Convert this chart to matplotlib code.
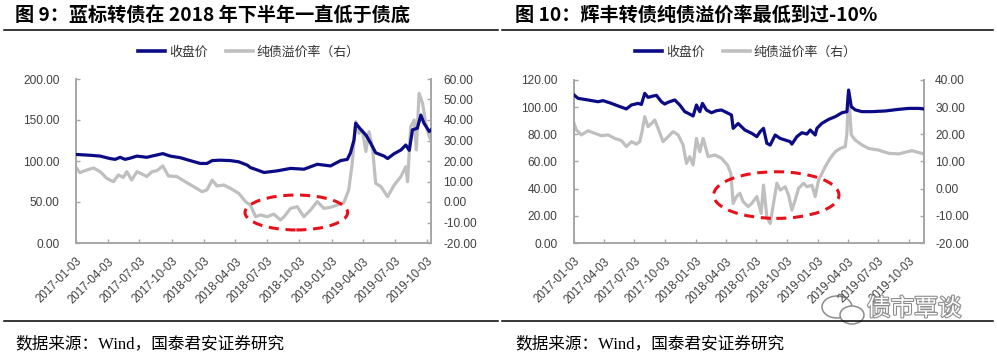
import pandas as pd
import matplotlib
matplotlib.use('Agg')
import matplotlib.pyplot as plt
import matplotlib.dates as mdates
from matplotlib.patches import Ellipse
from matplotlib.lines import Line2D
import matplotlib.patheffects as pe

plt.rcParams['font.family'] = ['Liberation Sans', 'Noto Sans CJK SC']

# --- Panel 1: 蓝标转债
left_close_dates = ['2017-01-03', '2017-02-12', '2017-03-13', '2017-04-10', '2017-04-25', '2017-05-09',
                    '2017-05-23', '2017-06-07', '2017-06-26', '2017-07-24', '2017-08-13', '2017-09-08',
                    '2017-09-29', '2017-10-28', '2017-11-25', '2017-12-24', '2018-01-12', '2018-01-27',
                    '2018-02-19', '2018-03-20', '2018-04-13', '2018-05-07', '2018-05-16', '2018-06-05',
                    '2018-06-24', '2018-08-01', '2018-09-08', '2018-10-16', '2018-11-23', '2018-12-31',
                    '2019-01-29', '2019-02-17', '2019-02-26', '2019-03-08', '2019-03-13', '2019-03-27',
                    '2019-04-11', '2019-04-25', '2019-05-09', '2019-06-02', '2019-06-12', '2019-07-01',
                    '2019-07-20', '2019-08-03', '2019-08-13', '2019-08-22', '2019-09-05', '2019-09-15',
                    '2019-09-24', '2019-10-09', '2019-10-14']
left_close = [108, 107, 106, 103, 102, 104.5,
              102, 103.5, 106, 104.5, 106.5, 109,
              106, 104, 100.5, 97, 97, 100.5,
              101, 100.5, 99, 95, 92, 89,
              86, 88, 91, 90, 96, 94,
              100.5, 102, 110, 125.6, 146, 138.6,
              131.7, 121.5, 110, 106, 103, 109,
              113.4, 119.5, 113, 138, 140, 156,
              146, 136, 138]

left_prem_dates = ['2017-01-03', '2017-01-14', '2017-02-03', '2017-02-22', '2017-03-13', '2017-04-01',
                   '2017-04-20', '2017-05-04', '2017-05-18', '2017-05-28', '2017-06-11', '2017-06-26',
                   '2017-07-10', '2017-07-24', '2017-08-08', '2017-08-22', '2017-09-08', '2017-09-24',
                   '2017-10-18', '2017-11-11', '2017-12-05', '2017-12-29', '2018-01-12', '2018-01-27',
                   '2018-02-10', '2018-03-01', '2018-03-20', '2018-04-13', '2018-05-02', '2018-05-16',
                   '2018-05-31', '2018-06-14', '2018-07-03', '2018-07-22', '2018-08-10', '2018-08-20',
                   '2018-09-08', '2018-09-27', '2018-10-16', '2018-11-04', '2018-11-23', '2018-12-12',
                   '2018-12-31', '2019-01-19', '2019-02-07', '2019-02-21', '2019-03-03', '2019-03-13',
                   '2019-03-22', '2019-04-01', '2019-04-11', '2019-04-20', '2019-04-30', '2019-05-09',
                   '2019-05-24', '2019-06-12', '2019-07-01', '2019-07-20', '2019-08-03', '2019-08-08',
                   '2019-08-17', '2019-08-27', '2019-09-02', '2019-09-10', '2019-09-20', '2019-09-29',
                   '2019-10-09', '2019-10-14']
left_prem = [16.9, 14.3, 15.6, 16.6, 14.8, 11.5,
             9.9, 13.2, 12, 14.8, 10.7, 14.8,
             13.7, 12.4, 14.8, 15.3, 17.6, 12.7,
             12.4, 9.9, 7.5, 5, 5.9, 10.7,
             7.8, 8.3, 6.7, 4.2, 0.2, -1.5,
             -7.2, -6.3, -7.2, -5.9, -8.8, -7.2,
             -3.1, -2.3, -7.2, -3.9, 0.2, -3.1,
             -2.6, -1.5, -0.3, 5.9, 18.9, 39.2,
             33.5, 35.1, 24.6, 34.3, 26.2, 9.1,
             7.5, 2.6, 8.3, 12.4, 17.2, 9.9,
             36.7, 40, 25.4, 53, 48.1, 38.4,
             31.9, 30.2]

# --- Panel 2: 辉丰转债
right_close_dates = ['2017-01-03', '2017-01-15', '2017-02-14', '2017-03-16', '2017-03-31', '2017-04-25',
                     '2017-05-15', '2017-06-09', '2017-06-24', '2017-07-14', '2017-07-24', '2017-08-03',
                     '2017-08-13', '2017-08-28', '2017-09-07', '2017-09-22', '2017-10-02', '2017-10-12',
                     '2017-11-01', '2017-11-16', '2017-12-01', '2017-12-11', '2017-12-26', '2018-01-05',
                     '2018-01-15', '2018-01-23', '2018-02-04', '2018-02-19', '2018-03-06', '2018-03-21',
                     '2018-04-10', '2018-04-20', '2018-04-25', '2018-05-10', '2018-05-20', '2018-05-30',
                     '2018-06-20', '2018-07-05', '2018-07-15', '2018-07-25', '2018-08-04', '2018-08-14',
                     '2018-08-29', '2018-09-13', '2018-09-28', '2018-10-13', '2018-10-18', '2018-11-02',
                     '2018-11-17', '2018-12-02', '2018-12-12', '2018-12-27', '2019-01-01', '2019-01-16',
                     '2019-02-05', '2019-02-25', '2019-03-17', '2019-04-01', '2019-04-06', '2019-04-14',
                     '2019-04-26', '2019-05-16', '2019-06-15', '2019-07-25', '2019-09-03', '2019-10-03',
                     '2019-11-02', '2019-11-17']
right_close = [109, 106.5, 105.3, 104, 104.8, 102.8,
               100.9, 98.7, 101.6, 102.8, 102, 110.2,
               107.2, 108.2, 108.7, 104, 102.3, 103.6,
               105.3, 101.6, 96.7, 95.5, 93.5, 101.6,
               96.7, 102.8, 97.9, 95.9, 97.4, 97.9,
               95.5, 94.2, 84.4, 88, 85.6, 83.2,
               80.7, 78.3, 82, 84.4, 73.4, 72.1,
               79.5, 77, 75.8, 74.6, 72.8, 78.3,
               81.2, 80.2, 83.2, 79.5, 84.4, 88.1,
               91, 93, 95.9, 96.7, 112.6, 100.4,
               98, 96.7, 96.7, 97.2, 98.4, 99.1,
               99.1, 98.7]

right_prem_dates = ['2017-01-03', '2017-01-10', '2017-01-25', '2017-02-14', '2017-03-06', '2017-03-26',
                    '2017-04-15', '2017-05-05', '2017-05-25', '2017-06-09', '2017-06-24', '2017-07-09',
                    '2017-07-19', '2017-07-26', '2017-08-03', '2017-08-13', '2017-08-23', '2017-09-02',
                    '2017-09-12', '2017-09-27', '2017-10-12', '2017-10-27', '2017-11-11', '2017-11-26',
                    '2017-12-06', '2017-12-16', '2017-12-26', '2018-01-05', '2018-01-15', '2018-01-25',
                    '2018-02-09', '2018-03-01', '2018-03-21', '2018-04-08', '2018-04-18', '2018-04-25',
                    '2018-05-05', '2018-05-15', '2018-05-25', '2018-06-09', '2018-06-20', '2018-07-05',
                    '2018-07-18', '2018-07-25', '2018-08-04', '2018-08-14', '2018-08-24', '2018-09-03',
                    '2018-09-13', '2018-09-28', '2018-10-08', '2018-10-18', '2018-10-28', '2018-11-07',
                    '2018-11-22', '2018-12-02', '2018-12-17', '2018-12-27', '2019-01-06', '2019-01-16',
                    '2019-01-26', '2019-02-10', '2019-02-25', '2019-03-12', '2019-03-27', '2019-04-01',
                    '2019-04-06', '2019-04-14', '2019-04-26', '2019-05-16', '2019-06-05', '2019-07-05',
                    '2019-08-04', '2019-09-03', '2019-10-13', '2019-11-02', '2019-11-17']
right_prem = [24, 21.6, 19.8, 21.3, 20.4, 19.5,
              19.8, 18.5, 17.7, 15.5, 17.3, 16.4,
              17.3, 21, 26.5, 22.8, 24, 25.3,
              22.2, 17.3, 19.1, 21, 19.8, 16.1,
              9.3, 11.8, 8.7, 18.5, 13.6, 18.5,
              11.8, 12.4, 11.2, 8.7, 5.6, -5.4,
              -2.9, -1.7, -4.8, -6.6, -5.4, -2.9,
              -9.1, 1.3, -10.3, -12.8, -5.4, 2,
              -0.5, 0.7, -2.3, -7.9, -4.2, 0.1,
              2, 0.7, 1.3, -2.9, 3.2, 5.6,
              8.1, 11.2, 13.6, 14.8, 15.5, 20.4,
              35.7, 19.8, 17.9, 16.1, 14.8, 14.2,
              13, 12.8, 14, 13.3, 12.8]

tick_dates = ['2017-01-03', '2017-04-03', '2017-07-03', '2017-10-03', '2018-01-03', '2018-04-03',
              '2018-07-03', '2018-10-03', '2019-01-03', '2019-04-03', '2019-07-03', '2019-10-03']

titles = ['图 9：蓝标转债在 2018 年下半年一直低于债底', '图 10：辉丰转债纯债溢价率最低到过-10%']
legend_labels = ['收盘价', '纯债溢价率（右）']
source_text = '数据来源：Wind，国泰君安证券研究'

BLUE = '#0b0b86'
GRAY = '#bfbfbf'
SPINE = '#a6a6a6'
LABEL = '#404040'

fig = plt.figure(figsize=(9.97, 3.56), dpi=100)


def draw_panel(rect, close_d, close_v, prem_d, prem_v, xend, ylim_l, step_l, ylim_r, step_r,
               ell, leg_x, title, title_x, lpad, rpad):
    ax = fig.add_axes(rect)
    ax2 = ax.twinx()
    ax.plot(pd.to_datetime(close_d), close_v, color=BLUE, lw=2.3, zorder=3)
    ax2.plot(pd.to_datetime(prem_d), prem_v, color=GRAY, lw=2.3, zorder=2)
    ax.set_zorder(ax2.get_zorder() + 1)
    ax.patch.set_visible(False)

    ax.set_xlim(pd.Timestamp('2017-01-03'), pd.Timestamp(xend))
    ax.set_ylim(*ylim_l)
    ax2.set_ylim(*ylim_r)
    ax.set_yticks([ylim_l[0] + i * step_l for i in range(int((ylim_l[1] - ylim_l[0]) / step_l) + 1)])
    ax2.set_yticks([ylim_r[0] + i * step_r for i in range(int((ylim_r[1] - ylim_r[0]) / step_r) + 1)])
    ax.yaxis.set_major_formatter(plt.FormatStrFormatter('%.2f'))
    ax2.yaxis.set_major_formatter(plt.FormatStrFormatter('%.2f'))
    ax.set_xticks(pd.to_datetime(tick_dates))
    ax.xaxis.set_major_formatter(mdates.DateFormatter('%Y-%m-%d'))

    for a in (ax, ax2):
        a.spines['top'].set_visible(False)
        for s in ('left', 'right', 'bottom'):
            a.spines[s].set_color(SPINE)
            a.spines[s].set_linewidth(1.2)
        a.tick_params(direction='in', length=3, width=1, color=SPINE,
                      labelsize=8.6, labelcolor=LABEL)
    ax.tick_params(axis='y', pad=lpad)
    ax2.tick_params(axis='y', pad=rpad)
    ax.tick_params(axis='x', pad=9)
    for lab in ax.get_xticklabels():
        lab.set_rotation(45)
        lab.set_ha('right')
        lab.set_rotation_mode('anchor')
        lab.set_fontsize(8.3)

    ax.add_patch(Ellipse(ell[:2], ell[2], ell[3], transform=ax.transAxes, fill=False,
                         edgecolor='#e8101a', lw=2.2, linestyle=(0, (3.3, 2.2)), zorder=5,
                         clip_on=False))

    handles = [Line2D([], [], color=BLUE, lw=2.6), Line2D([], [], color=GRAY, lw=2.6)]
    fig.legend(handles, legend_labels, ncol=2, frameon=False, loc='center',
               bbox_to_anchor=(leg_x, 0.853), prop={'family': ['Noto Sans CJK SC'], 'size': 9.3},
               handlelength=2.1, handletextpad=0.3, columnspacing=1.4, labelcolor='#333333')

    fig.text(title_x, 0.957, title, fontsize=13.8, fontweight='bold', family=['Noto Sans CJK SC'],
             va='center', ha='left', color='black')
    return ax


draw_panel([76 / 997, 1 - 243 / 356, 355 / 997, 164 / 356],
           left_close_dates, left_close, left_prem_dates, left_prem, '2019-10-14',
           (0, 200), 50, (-20, 60), 10, (0.6206, 0.186, 0.289, 0.213),
           249 / 997, titles[0], 15 / 997, 12, 9)
draw_panel([574 / 997, 1 - 243 / 356, 350 / 997, 163 / 356],
           right_close_dates, right_close, right_prem_dates, right_prem, '2019-11-18',
           (0, 120), 20, (-20, 40), 10, (0.578, 0.294, 0.358, 0.286),
           746 / 997, titles[1], 515 / 997, 12, 8)

# header and footer rules
for x0, x1 in ((4, 498), (502, 993)):
    for y in (29.5, 321):
        fig.add_artist(Line2D([x0 / 997, x1 / 997], [1 - y / 356, 1 - y / 356], color='black', lw=1.1))

for x in (15, 515):
    fig.text(x / 997, 1 - 344 / 356, source_text, fontsize=12, va='center', ha='left',
             family=['Liberation Serif', 'Noto Sans CJK SC'], color='black')

# watermark
fig.text(867 / 997, 1 - 309 / 356, '债市覃谈', fontsize=17, va='center', ha='left',
         family=['Noto Sans CJK SC'], color='white',
         path_effects=[pe.withStroke(linewidth=1.6, foreground='#8c8c8c')])
fig.add_artist(Ellipse((837 / 997, 1 - 307 / 356), 30 / 997, 22 / 356, transform=fig.transFigure,
                       fill=False, edgecolor='#8c8c8c', lw=1.1))
fig.add_artist(Ellipse((852 / 997, 1 - 315 / 356), 24 / 997, 18 / 356, transform=fig.transFigure,
                       facecolor='white', edgecolor='#8c8c8c', lw=1.1))

fig.savefig('out.png', dpi=100)
